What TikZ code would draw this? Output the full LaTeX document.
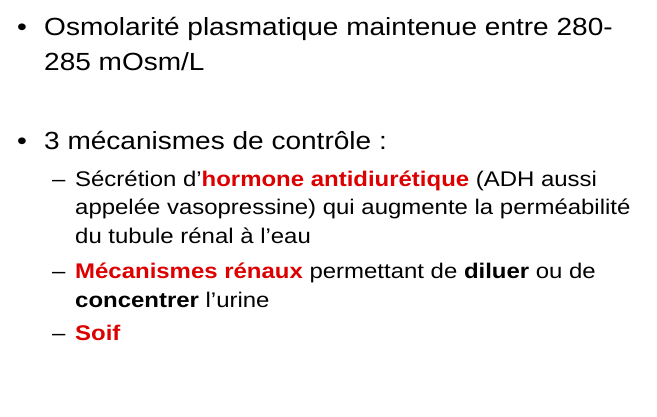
\documentclass[tikz,border=0pt]{standalone}
\usepackage{fontspec}
\setmainfont[FakeStretch=1.13]{Liberation Sans}
\definecolor{slred}{HTML}{DD0000}
\begin{document}
\begin{tikzpicture}[x=1pt,y=1pt,
  main/.style={anchor=base west,inner sep=0pt,font=\fontsize{24.8}{29}\selectfont},
  sub/.style={anchor=base west,inner sep=0pt,font=\fontsize{21.2}{26}\selectfont}]
\useasboundingbox[fill=white] (0,0) rectangle (657,416);
\newcommand{\rb}[1]{\textcolor{slred}{\textbf{#1}}}
\node[main] (b1) at (17,{416-35.5}) {•};
\node[main] (l1) at (44,{416-35.5}) {Osmolarité plasmatique maintenue entre 280-};
\node[main] (l2) at (44,{416-70.5}) {285 mOsm/L};
\node[main] (b2) at (17,{416-149.5}) {•};
\node[main] (l3) at (44,{416-149.5}) {3 mécanismes de contrôle :};
\node[sub] (d1) at (52,{416-186.5}) {–};
\node[sub] (s1) at (75,{416-186.5}) {Sécrétion d’\rb{hormone antidiurétique} (ADH aussi};
\node[sub] (s2) at (75,{416-214.5}) {appelée vasopressine) qui augmente la perméabilité};
\node[sub] (s3) at (75,{416-243}) {du tubule rénal à l’eau};
\node[sub] (d2) at (52,{416-278.5}) {–};
\node[sub] (s4) at (75,{416-278.5}) {\rb{Mécanismes rénaux} permettant de \textbf{diluer} ou de};
\node[sub] (s5) at (75,{416-307}) {\textbf{concentrer} l’urine};
\node[sub] (d3) at (52,{416-340}) {–};
\node[sub] (s6) at (75,{416-340}) {\rb{Soif}};
\end{tikzpicture}
\end{document}
